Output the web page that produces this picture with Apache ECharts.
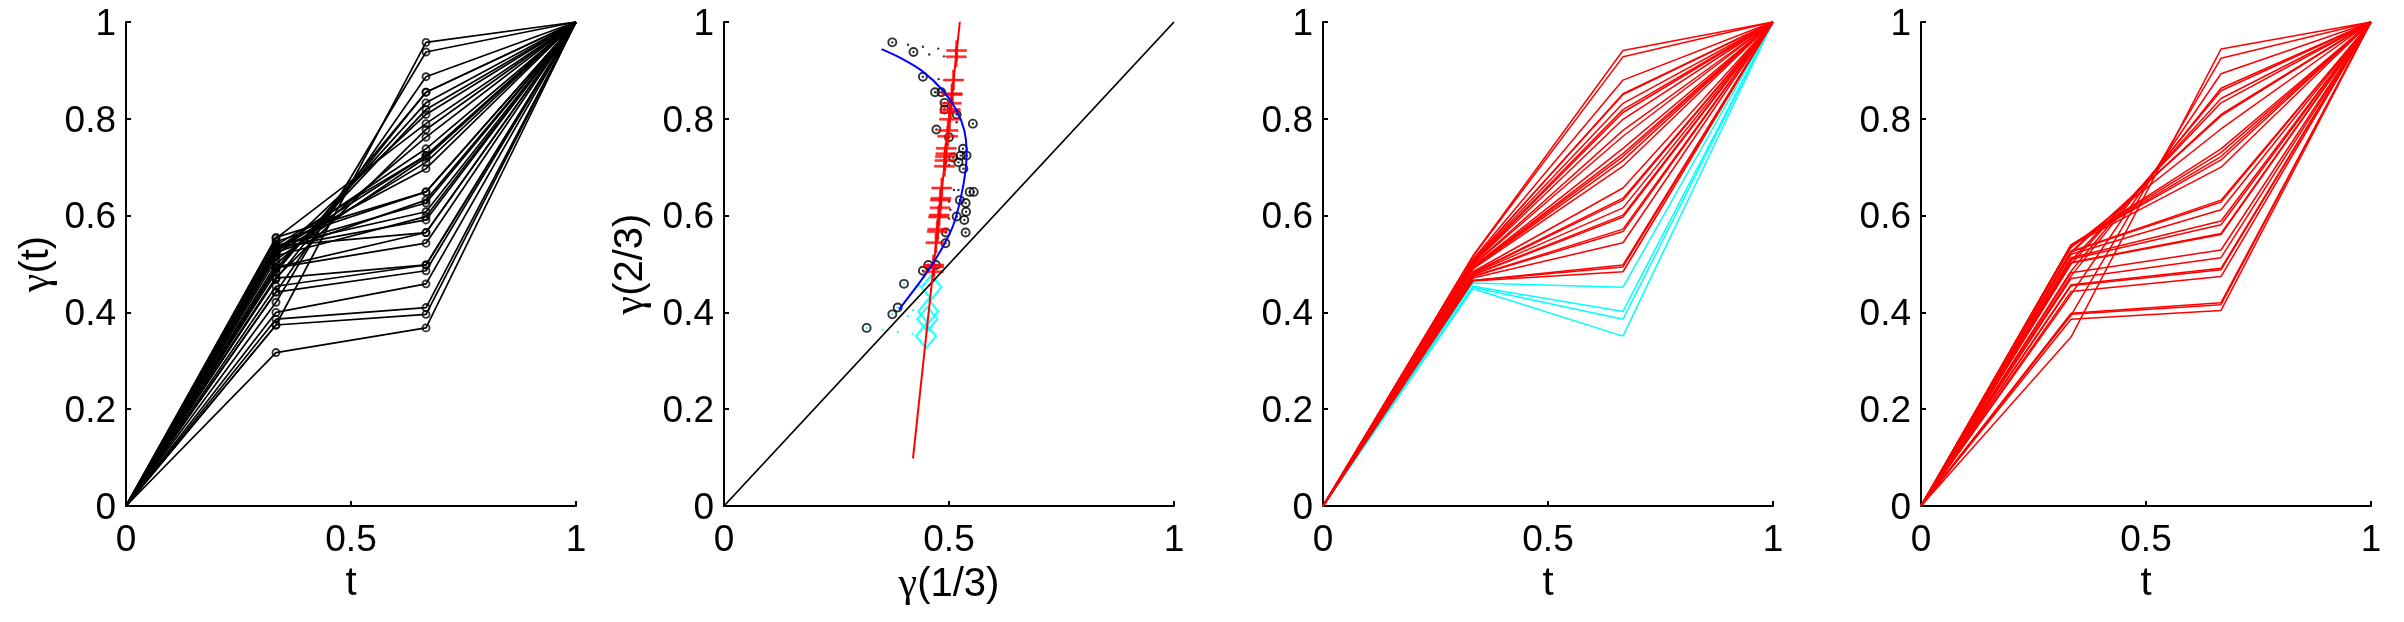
<!DOCTYPE html>
<html><head><meta charset="utf-8">
<style>html,body{margin:0;padding:0;background:#fff}#c{width:2404px;height:622px}</style>
<script src="https://cdn.jsdelivr.net/npm/echarts@6/dist/echarts.min.js"></script>
</head><body><div id="c"></div>
<script>
const tGrid = [0, 1/3, 2/3, 1];
const xTicks = [0, 0.5, 1];
const yTicks = [0, 0.2, 0.4, 0.6, 0.8, 1];
// raw observations: gamma(1/3), gamma(2/3)
const rawFirst = [.374,.421,.442,.469,.483,.490,.490,.517,.553,.472,.500,.531,.526,.539,.509,.521,.532,.546,.555,.524,.537,.538,.517,.534,.493,.537,.492,.454,.471,.442,.400,.386,.374,.317];
const rawSecond = [.958,.938,.887,.855,.855,.833,.819,.809,.790,.778,.762,.738,.724,.724,.720,.710,.697,.649,.649,.632,.626,.608,.598,.591,.565,.565,.543,.498,.498,.486,.459,.410,.396,.368];
// principal line (red)
const redLineX = [.420,.524];
const redLineY = [.0985,1];
// blue principal curve
const blueX = [.350,.394,.440,.487,.517,.534,.539,.537,.526,.509,.483,.449,.389];
const blueY = [.944,.925,.899,.858,.817,.776,.735,.694,.636,.579,.530,.480,.406];
// red + marks: projection on the line
const plusFirst = [.517,.516,.510,.507,.507,.505,.503,.502,.501,.498,.497,.494,.493,.492,.491,.490,.484,.482,.481,.480,.478,.477,.475,.474,.471,.466,.466,.465];
const plusSecond = [.941,.928,.880,.852,.850,.832,.819,.813,.799,.776,.764,.739,.728,.722,.714,.702,.657,.636,.632,.616,.601,.597,.572,.567,.544,.498,.494,.484];
// cyan diamonds
const cyanFirst = [.461,.454,.452,.449];
const cyanSecond = [.452,.402,.386,.351];
// sparse dots of the dotted connectors
const dotBlackX = [.409,.442,.476,.456,.489,.477,.511,.521,.500,.503,.500,.517,.500];
const dotBlackY = [.953,.949,.945,.933,.929,.882,.653,.653,.629,.612,.594,.793,.704];
const dotCyanX = [.435,.420,.409,.352,.386,.419,.400,.386,.374,.317];
const dotCyanY = [.4545,.405,.392,.3636,.3595,.356,.459,.410,.396,.368];
// fourth panel: projection on the curve
const curveFirst = [.349,.394,.437,.475,.485,.500,.507,.523,.525,.534,.539,.539,.539,.539,.538,.526,.525,.520,.513,.510,.503,.502,.482,.470,.457,.455,.443,.398,.396,.386];
const curveSecond = [.944,.925,.893,.863,.858,.842,.833,.809,.806,.779,.738,.730,.722,.715,.700,.632,.628,.612,.589,.581,.563,.561,.529,.513,.491,.488,.474,.420,.416,.404];

const zip = (a, b) => a.map((v, i) => [v, b[i]]);
const lefts = [126, 724, 1323, 1921];
const W = 450, TOP = 22, H = 484;
const FONT = '"Liberation Sans", Arial, sans-serif';
const names = [
  {x: 't', y: '{g|γ}(t)', gap: 68},
  {x: '{g|γ}(1/3)', y: '{g|γ}(2/3)', gap: 72},
  {x: 't', y: '', gap: 68},
  {x: 't', y: '', gap: 68}
];
const rich = {g: {fontFamily: '"Liberation Serif", serif', fontSize: 42, color: '#000'}};
const axisBase = {
  type: 'value', min: 0, max: 1, splitLine: {show: false},
  axisLine: {onZero: false, lineStyle: {color: '#000', width: 2}},
  axisTick: {inside: true, length: 5, lineStyle: {color: '#000', width: 2}},
  axisLabel: {color: '#000', fontFamily: FONT, fontSize: 37, showMinLabel: true, showMaxLabel: true},
  nameLocation: 'middle',
  nameTextStyle: {color: '#000', fontFamily: FONT, fontSize: 40, rich}
};
const grid = lefts.map(l => ({left: l, top: TOP, width: W, height: H}));
const xAxis = lefts.map((l, i) => ({...axisBase, gridIndex: i, interval: xTicks[1], name: names[i].x, nameGap: 46,
  axisLabel: {...axisBase.axisLabel, margin: 16}}));
const yAxis = lefts.map((l, i) => ({...axisBase, gridIndex: i, interval: yTicks[1], name: names[i].y, nameGap: names[i].gap,
  axisLabel: {...axisBase.axisLabel, margin: 10, formatter: v => '{a|' + v + '}',
    rich: {a: {fontFamily: FONT, fontSize: 37, color: '#000', padding: [5, 0, 0, 0]}}}}));

const path = (idx, first, second, color, w) => ({
  type: 'line', xAxisIndex: idx, yAxisIndex: idx, silent: true, showSymbol: false, symbol: 'none', clip: false,
  lineStyle: {color, width: w},
  data: [[tGrid[0], 0], [tGrid[1], first], [tGrid[2], second], [tGrid[3], 1]]
});
const series = [];
// panel 1
rawFirst.forEach((v, i) => series.push(path(0, v, rawSecond[i], '#000', 1.7)));
const ring = {symbol: 'circle', itemStyle: {color: 'rgba(0,0,0,0)', borderColor: '#000', borderWidth: 1.9}};
series.push({type: 'scatter', xAxisIndex: 0, yAxisIndex: 0, clip: false, symbolSize: 7, ...ring,
  data: [...rawFirst.map(v => [tGrid[1], v]), ...rawSecond.map(v => [tGrid[2], v])]});
// panel 2
series.push({type: 'line', xAxisIndex: 1, yAxisIndex: 1, symbol: 'none', lineStyle: {color: '#000', width: 1.8}, data: [[0,0],[1,1]]});
series.push({type: 'scatter', xAxisIndex: 1, yAxisIndex: 1, symbolSize: 8, ...ring, data: zip(rawFirst, rawSecond)});
series.push({type: 'scatter', xAxisIndex: 1, yAxisIndex: 1, symbol: 'circle', symbolSize: 2.4, itemStyle: {color: '#000'},
  data: [...zip(dotBlackX, dotBlackY), ...zip(rawFirst.slice(0, 30), rawSecond.slice(0, 30))]});
series.push({type: 'scatter', xAxisIndex: 1, yAxisIndex: 1, symbol: 'circle', symbolSize: 2.4, itemStyle: {color: '#00ffff'}, data: zip(dotCyanX, dotCyanY)});
series.push({type: 'line', xAxisIndex: 1, yAxisIndex: 1, symbol: 'none', lineStyle: {color: '#f00', width: 2}, data: zip(redLineX, redLineY)});
series.push({type: 'scatter', xAxisIndex: 1, yAxisIndex: 1, symbolSize: 20, large: false,
  symbol: 'path://M0,9H9V0H11V9H20V11H11V20H9V11H0Z', symbolKeepAspect: true, itemStyle: {color: '#f00', borderColor: '#f00', borderWidth: 0.6}, data: zip(plusFirst, plusSecond)});
series.push({type: 'scatter', xAxisIndex: 1, yAxisIndex: 1, symbol: 'diamond', symbolSize: [20, 24],
  itemStyle: {color: 'rgba(0,0,0,0)', borderColor: '#00ffff', borderWidth: 2.4}, data: zip(cyanFirst, cyanSecond)});
series.push({type: 'line', xAxisIndex: 1, yAxisIndex: 1, symbol: 'none', smooth: 0.3, lineStyle: {color: '#00f', width: 2}, data: zip(blueX, blueY)});
// panel 3
cyanFirst.forEach((v, i) => series.push(path(2, v, cyanSecond[i], '#00ffff', 1.5)));
plusFirst.forEach((v, i) => series.push(path(2, v, plusSecond[i], '#f00', 1.5)));
// panel 4
curveFirst.forEach((v, i) => series.push(path(3, v, curveSecond[i], '#f00', 1.5)));

const chart = echarts.init(document.getElementById('c'), null, {renderer: 'canvas'});
chart.setOption({animation: false, backgroundColor: '#fff', grid, xAxis, yAxis, series});
</script></body></html>
